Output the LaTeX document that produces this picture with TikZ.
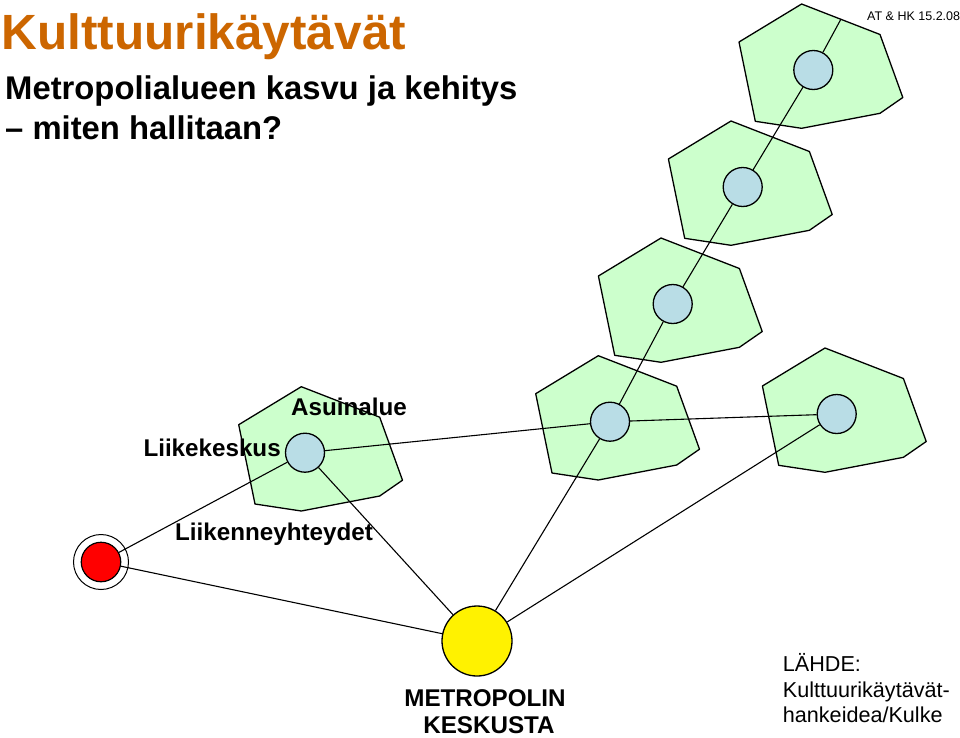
\documentclass[tikz,border=0pt]{standalone}
\usepackage{fontspec}
\setmainfont{Liberation Sans}
\usepackage{xcolor}
\usepackage{tikz}
\usetikzlibrary{positioning}

\definecolor{titleorange}{RGB}{204,102,0}
\definecolor{zonegreen}{RGB}{204,255,204}
\definecolor{stopblue}{RGB}{185,221,230}

\begin{document}
\begin{tikzpicture}[x=1pt,y=-1pt,
  zone/.style={draw, fill=zonegreen, line width=1.3pt, line join=round},
  stop/.style={circle, draw, fill=stopblue, minimum size=39pt, inner sep=0pt, line width=1.3pt},
  link/.style={line width=1.1pt},
  txt/.style={inner sep=0pt, anchor=base west},
  boldlabel/.style={txt, font=\bfseries\fontsize{24.2}{27}\selectfont}]

\useasboundingbox (0,0) rectangle (960,737);

\foreach \cx/\cy in {313/452.7, 610/421.7, 836.7/414, 672.7/304, 742.7/187, 813.3/70}
  \draw[zone, shift={(\cx,\cy)}] (-11.7,-66) -- (66.7,-35.5) -- (89.5,27.5) -- (66.7,43.3)
    -- (-11.7,58.3) -- (-58,51.3) -- (-74.3,-28) -- cycle;

\node[stop] (asuinalue) at (305,452.7) {};
\node[stop] (alue1) at (610,421.7) {};
\node[stop] (alue2) at (836.7,414) {};
\node[stop] (alue3) at (672.7,304) {};
\node[stop] (alue4) at (742.7,187) {};
\node[stop] (alue5) at (813.3,70) {};
\coordinate (ylapaa) at (841,19);

\node[circle, draw, minimum size=55pt, inner sep=0pt, line width=1pt] (rengas) at (101,562) {};
\node[circle, draw, fill=red, minimum size=39.5pt, inner sep=0pt, line width=1.2pt] (liike) at (101,562) {};
\node[circle, draw, fill=yellow, minimum size=70pt, inner sep=0pt, line width=1.3pt] (keskusta) at (477,641) {};

\draw[link] (liike) -- (asuinalue);
\draw[link] (liike) -- (keskusta);
\draw[link] (asuinalue) -- (keskusta);
\draw[link] (asuinalue) -- (alue1);
\draw[link] (alue1) -- (alue2);
\draw[link] (alue1) -- (keskusta);
\draw[link] (alue2) -- (keskusta);
\draw[link] (alue1) -- (alue3);
\draw[link] (alue3) -- (alue4);
\draw[link] (alue4) -- (alue5);
\draw[link] (alue5) -- (ylapaa);

\node[txt, text=titleorange, font=\bfseries\fontsize{49.5}{55}\selectfont] (otsikko) at (1.5,49.3) {Kulttuurikäytävät};
\node[txt, font=\bfseries\fontsize{32.8}{38}\selectfont] (alaotsikko) at (5,99.3) {Metropolialueen kasvu ja kehitys};
\node[txt, font=\bfseries\fontsize{32.8}{38}\selectfont] (kysymys) at (5,139.3) {– miten hallitaan?};
\node[txt, font=\fontsize{12.5}{14}\selectfont] (tekijat) at (867,20) {AT \& HK 15.2.08};

\node[boldlabel] (asuinaluelabel) at (291,415) {Asuinalue};
\node[boldlabel] (liikelabel) at (143.3,456.7) {Liikekeskus};
\node[boldlabel] (yhteyslabel) at (175,540.7) {Liikenneyhteydet};
\node[boldlabel, anchor=base] (metro1) at (485,706.7) {METROPOLIN};
\node[boldlabel, anchor=base] (metro2) at (489,733.3) {KESKUSTA};

\node[txt, font=\fontsize{21.6}{24}\selectfont] (lahde1) at (782.7,671.7) {LÄHDE:};
\node[txt, font=\fontsize{21.6}{24}\selectfont] (lahde2) at (782.7,697) {Kulttuurikäytävät-};
\node[txt, font=\fontsize{21.6}{24}\selectfont] (lahde3) at (782.7,722.3) {hankeidea/Kulke};

\end{tikzpicture}
\end{document}
